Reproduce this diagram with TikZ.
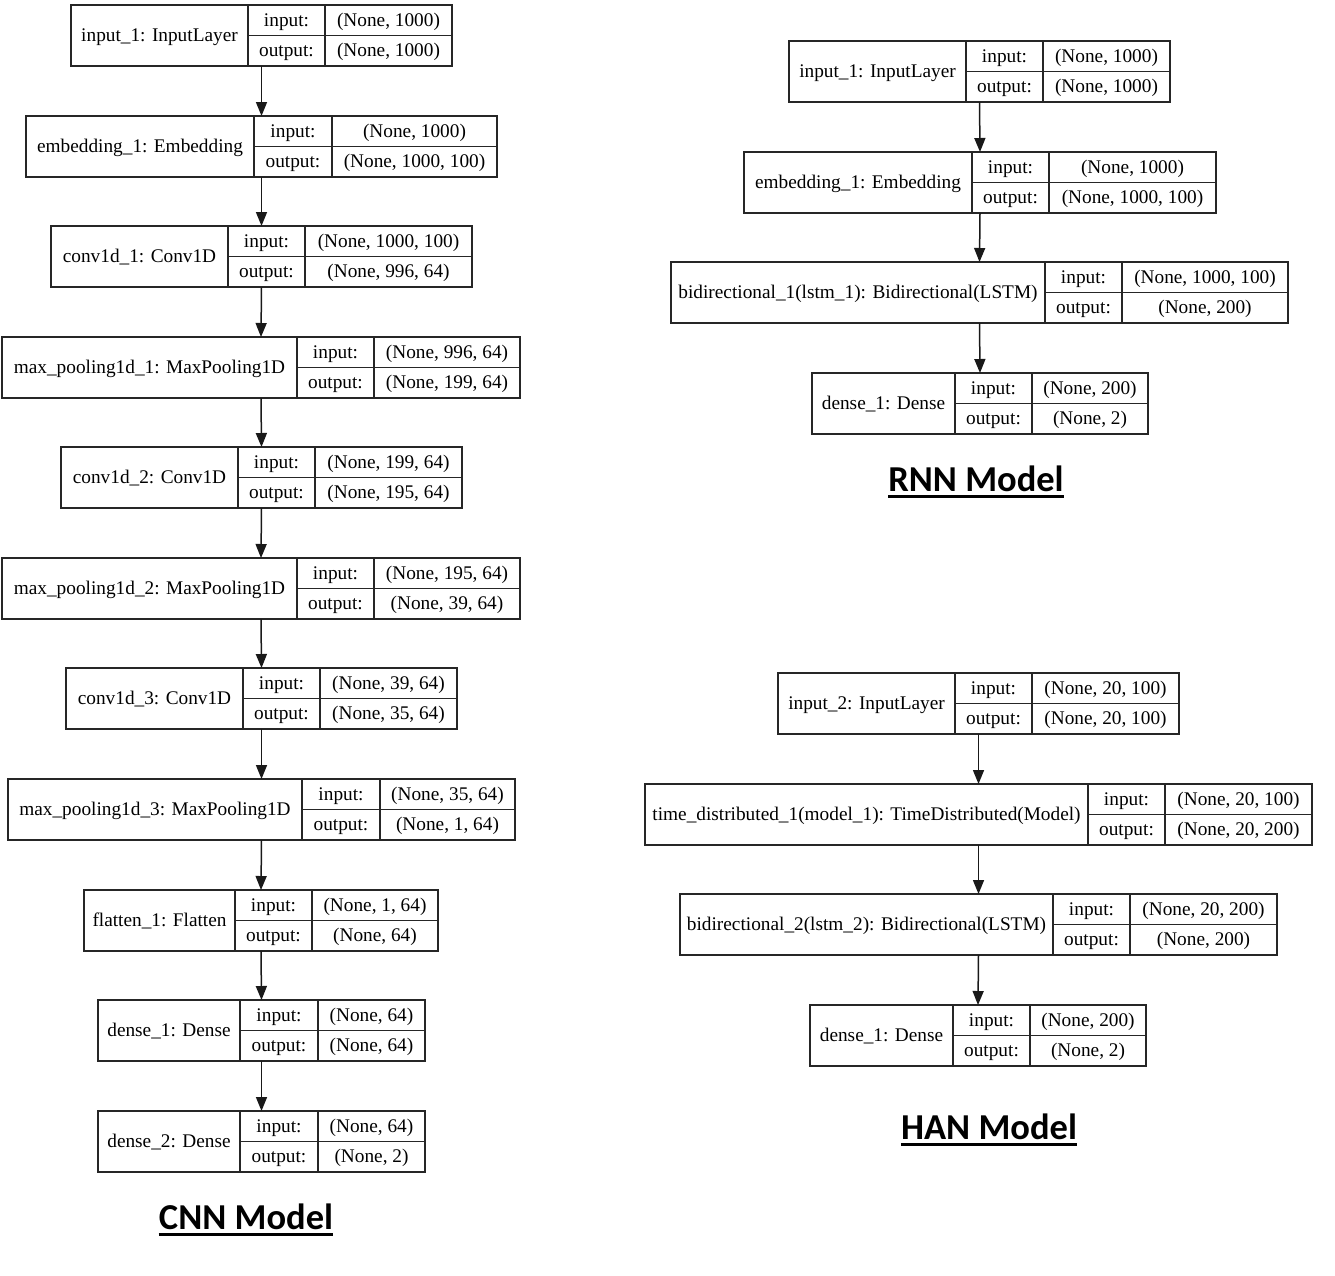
\documentclass[tikz,border=0pt]{standalone}
\usepackage{fontspec}
\setmainfont{Liberation Serif}
\newfontfamily\titlefont{Carlito}
\usetikzlibrary{arrows.meta}
\tikzset{
  boxline/.style={line width=1.5pt, draw=black!85},
  layerbox/.style={boxline, rectangle, inner sep=0pt, outer sep=0pt, anchor=north west},
  lbl/.style={inner sep=0pt, yshift=-3.5pt, font=\fontsize{19.3}{21}\selectfont, text height=0.68em, text depth=0.2em},
  conn/.style={line width=1.5pt, draw=black!90, -{Triangle[length=14pt,width=11pt]}},
  modeltitle/.style={inner sep=0pt, anchor=base, font=\titlefont\bfseries\fontsize{36.5}{40}\selectfont},
  uline/.style={line width=3pt}
}
% id, x1, x2, d1, d2, ytop, name, in, out
\newcommand\kerasLayer[9]{%
  \node[layerbox, minimum width={(#3-#2)*1pt}, minimum height=61pt] (#1) at (#2,#6) {};
  \draw[boxline] (#4,#6) -- (#4,{#6+61});
  \draw[boxline] (#5,#6) -- (#5,{#6+61});
  \draw[boxline] (#4,{#6+30.5}) -- (#3,{#6+30.5});
  \node[lbl] (#1-n) at ({(#2+#4)/2},{#6+30.5}) {#7};
  \node[lbl] (#1-il) at ({(#4+#5)/2},{#6+15.5}) {input:};
  \node[lbl] (#1-ol) at ({(#4+#5)/2},{#6+46}) {output:};
  \node[lbl] (#1-iv) at ({(#5+#3)/2},{#6+15.5}) {#8};
  \node[lbl] (#1-ov) at ({(#5+#3)/2},{#6+46}) {#9};
}
\begin{document}
\begin{tikzpicture}[x=1pt,y=-1pt]
\useasboundingbox (0,0) rectangle (1335,1275);
\fill[white] (0,0) rectangle (1335,1275);
% CNN
\kerasLayer{c1}{71}{452}{248}{325}{5}{input\_1: InputLayer}{(None, 1000)}{(None, 1000)}
\kerasLayer{c2}{26}{497}{254}{332}{116}{embedding\_1: Embedding}{(None, 1000)}{(None, 1000, 100)}
\kerasLayer{c3}{51}{472}{228}{305}{226}{conv1d\_1: Conv1D}{(None, 1000, 100)}{(None, 996, 64)}
\kerasLayer{c4}{2}{520}{297}{374}{337}{max\_pooling1d\_1: MaxPooling1D}{(None, 996, 64)}{(None, 199, 64)}
\kerasLayer{c5}{61}{462}{238}{315}{447}{conv1d\_2: Conv1D}{(None, 199, 64)}{(None, 195, 64)}
\kerasLayer{c6}{2}{520}{297}{374}{558}{max\_pooling1d\_2: MaxPooling1D}{(None, 195, 64)}{(None, 39, 64)}
\kerasLayer{c7}{66}{457}{243}{320}{668}{conv1d\_3: Conv1D}{(None, 39, 64)}{(None, 35, 64)}
\kerasLayer{c8}{8}{515}{302}{380}{779}{max\_pooling1d\_3: MaxPooling1D}{(None, 35, 64)}{(None, 1, 64)}
\kerasLayer{c9}{84}{438}{235}{312}{890}{flatten\_1: Flatten}{(None, 1, 64)}{(None, 64)}
\kerasLayer{c10}{98}{425}{240}{318}{1000}{dense\_1: Dense}{(None, 64)}{(None, 64)}
\kerasLayer{c11}{98}{425}{240}{318}{1111}{dense\_2: Dense}{(None, 64)}{(None, 2)}
\foreach \a/\b in {c1/c2,c2/c3,c3/c4,c4/c5,c5/c6,c6/c7,c7/c8,c8/c9,c9/c10,c10/c11}
  \draw[conn] (\a.south) -- (\b.north);
% RNN
\kerasLayer{r1}{789}{1170}{966}{1043}{41}{input\_1: InputLayer}{(None, 1000)}{(None, 1000)}
\kerasLayer{r2}{744}{1216}{972}{1049}{152}{embedding\_1: Embedding}{(None, 1000)}{(None, 1000, 100)}
\kerasLayer{r3}{671}{1288}{1045}{1122}{262}{bidirectional\_1(lstm\_1): Bidirectional(LSTM)}{(None, 1000, 100)}{(None, 200)}
\kerasLayer{r4}{812}{1148}{955}{1032}{373}{dense\_1: Dense}{(None, 200)}{(None, 2)}
\foreach \a/\b in {r1/r2,r2/r3,r3/r4}
  \draw[conn] (\a.south) -- (\b.north);
% HAN
\kerasLayer{h1}{778}{1179}{955}{1032}{673}{input\_2: InputLayer}{(None, 20, 100)}{(None, 20, 100)}
\kerasLayer{h2}{645}{1312}{1088}{1165}{784}{time\_distributed\_1(model\_1): TimeDistributed(Model)}{(None, 20, 100)}{(None, 20, 200)}
\kerasLayer{h3}{680}{1277}{1053}{1130}{894}{bidirectional\_2(lstm\_2): Bidirectional(LSTM)}{(None, 20, 200)}{(None, 200)}
\kerasLayer{h4}{810}{1146}{953}{1030}{1005}{dense\_1: Dense}{(None, 200)}{(None, 2)}
\foreach \a/\b in {h1/h2,h2/h3,h3/h4}
  \draw[conn] (\a.south) -- (\b.north);
% titles
\node[modeltitle] (cnnt) at (246,1229) {CNN Model};
\draw[uline] ([yshift=-5pt]cnnt.base west) -- ([yshift=-5pt]cnnt.base east);
\node[modeltitle] (rnnt) at (976,491) {RNN Model};
\draw[uline] ([yshift=-5pt]rnnt.base west) -- ([yshift=-5pt]rnnt.base east);
\node[modeltitle] (hant) at (989,1139) {HAN Model};
\draw[uline] ([yshift=-5pt]hant.base west) -- ([yshift=-5pt]hant.base east);
\end{tikzpicture}
\end{document}
